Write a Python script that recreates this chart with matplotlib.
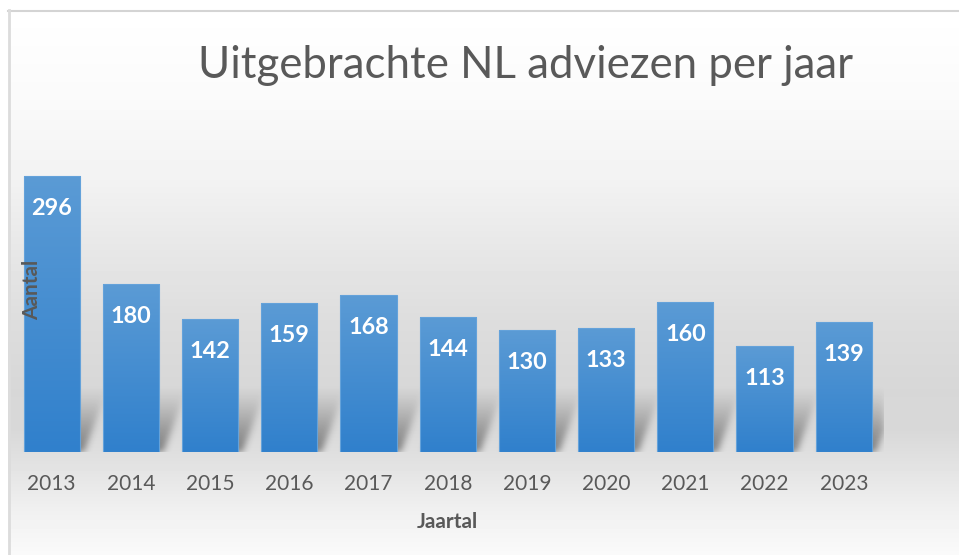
"""Uitgebrachte NL adviezen per jaar - Excel-style bar chart."""

import matplotlib
import numpy as np

matplotlib.use("Agg")
import matplotlib.pyplot as plt  # noqa: E402
from matplotlib.colors import LinearSegmentedColormap  # noqa: E402

plt.rcParams["font.family"] = ["Lato", "DejaVu Sans"]

YEARS = ["2013", "2014", "2015", "2016", "2017", "2018", "2019", "2020", "2021", "2022", "2023"]
COUNTS = [296, 180, 142, 159, 168, 144, 130, 133, 160, 113, 139]

TITLE = "Uitgebrachte NL adviezen per jaar"
XLABEL = "Jaartal"
YLABEL = "Aantal"

W, H, DPI = 959, 555, 100
GREY_TXT = "#595959"
BAR_TOP = "#5b9bd5"
BAR_BOT = "#3080cc"

# axes box in pixels (left, bottom-of-bars, width, height)
AX_L, AX_B, AX_W, AX_H = 12.1, 451.7, 871.3, 279.9
YMAX = 300
SH_H = 64  # shadow height in px


def blur(a, s):
    r = int(3 * s)
    k = np.exp(-0.5 * (np.arange(-r, r + 1) / s) ** 2)
    k /= k.sum()
    a = np.apply_along_axis(lambda v: np.convolve(v, k, mode="same"), 0, a)
    a = np.apply_along_axis(lambda v: np.convolve(v, k, mode="same"), 1, a)
    return a


fig = plt.figure(figsize=(W / DPI, H / DPI), dpi=DPI)

# background gradient + frame
bg = fig.add_axes([0, 0, 1, 1], zorder=0)
stops_y = [10, 100, 180, 250, 320, 390, 430, 470, 510, 555]
stops_v = np.array([255, 250, 242, 231, 221, 215, 216, 228, 240, 250]) / 255
vals = np.interp(np.arange(H), stops_y, stops_v)
img = np.repeat(vals[:, None], W, axis=1)
img[:10, :] = 1
img[:, :8] = 1
bg.imshow(img, cmap="gray", vmin=0, vmax=1, extent=(0, W, H, 0), aspect="auto")
bg.plot([8, W], [10.5, 10.5], color="#d4d4d4", lw=1.5)
bg.plot([8.5, 8.5], [10, H], color="#dcdcdc", lw=2)
bg.set_xlim(0, W)
bg.set_ylim(H, 0)
bg.axis("off")

ax = fig.add_axes([AX_L / W, (H - AX_B) / H, AX_W / W, AX_H / H], zorder=1)
ax.patch.set_alpha(0)
x = np.arange(len(YEARS))
bars = ax.bar(x, COUNTS, width=0.71, color="none", edgecolor="#64a2da", linewidth=0.8, zorder=3)

# gradient fill per bar
cmap = LinearSegmentedColormap.from_list("bar", [BAR_TOP, BAR_BOT])
grad = np.linspace(0, 1, 256)[:, None]
for b in bars:
    x0 = b.get_x()
    im = ax.imshow(grad, cmap=cmap, extent=(x0, x0 + b.get_width(), 0, b.get_height()),
                   aspect="auto", origin="upper", zorder=2.5)
    im.set_clip_path(b)

# soft perspective shadow behind the bars
px_x = AX_W / len(YEARS)
px_y = AX_H / YMAX
nx, ny = 872, 280
X, Y = np.meshgrid(np.linspace(-0.5, len(YEARS) - 0.5, nx), np.linspace(0, YMAX, ny))
hpx = Y * px_y
t = np.clip(hpx / SH_H, 0, 1)
shift = (4 + 24 * t) / px_x
mask = np.zeros_like(X)
for b in bars:
    inside = (X >= b.get_x() + shift) & (X <= b.get_x() + b.get_width() + shift)
    mask = np.maximum(mask, inside * (1 - t) ** 1.1)
mask = blur(mask, 3.5)
shadow = np.zeros((ny, nx, 4))
shadow[..., 3] = 0.45 * mask
ax.imshow(shadow, extent=(-0.5, len(YEARS) - 0.5, 0, YMAX), origin="lower", aspect="auto", zorder=2)

for xi, v in zip(x, COUNTS):
    ax.annotate(str(v), (xi, v), xytext=(0, -28.1), textcoords="offset points",
                ha="center", va="baseline", color="white", fontsize=16.8,
                fontweight="bold", zorder=5)

ax.set_xticks(x, YEARS)
ax.tick_params(axis="x", length=0, pad=16, labelsize=15, labelcolor=GREY_TXT)
ax.set_yticks([])
for s in ax.spines.values():
    s.set_visible(False)
ax.set_xlim(-0.5, len(YEARS) - 0.5)
ax.set_ylim(0, YMAX)
ax.set_xlabel(XLABEL, fontsize=15, fontweight="bold", color=GREY_TXT)
ax.xaxis.set_label_coords(0.5, (AX_B - 511.7) / AX_H)

fig.text(32 / W, 1 - 290 / H, YLABEL, rotation=90, ha="center", va="center",
         fontsize=15, fontweight="bold", color=GREY_TXT, zorder=5)
fig.text(526 / W, 1 - 78 / H, TITLE, ha="center", va="baseline",
         fontsize=31.5, color=GREY_TXT)

fig.savefig("out.png", dpi=DPI)
